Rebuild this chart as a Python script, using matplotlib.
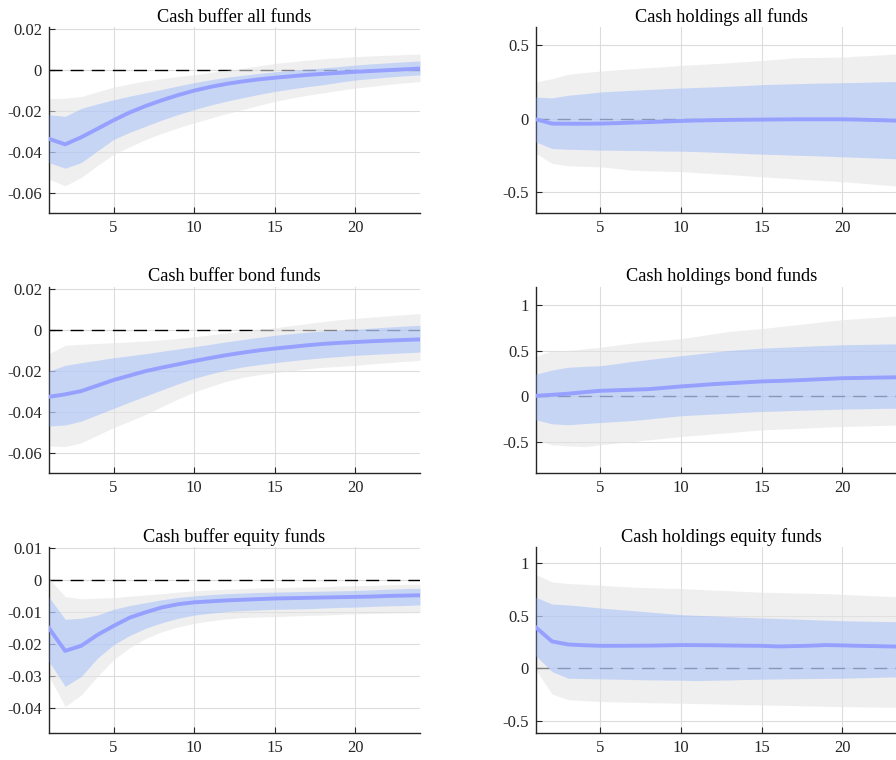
import numpy as np
import matplotlib.pyplot as plt

plt.rcParams['font.family'] = ['Liberation Serif', 'DejaVu Serif']
plt.rcParams['axes.unicode_minus'] = False

horizon = np.arange(1, 25)

titles = ['Cash buffer all funds', 'Cash holdings all funds',
          'Cash buffer bond funds', 'Cash holdings bond funds',
          'Cash buffer equity funds', 'Cash holdings equity funds']

# cash buffer, all funds
buf_all_mean = [-0.0337, -0.0364, -0.0329, -0.0288, -0.0246, -0.0208, -0.0176, -0.0148, -0.0123, -0.0101, -0.0083, -0.0068,
                -0.0056, -0.0046, -0.0038, -0.0031, -0.0024, -0.0019, -0.0014, -0.0009, -0.0005, -0.0001, 0.0003, 0.0007]
buf_all_in_hi = [-0.0219, -0.0227, -0.0188, -0.0166, -0.0146, -0.0128, -0.0112, -0.0095, -0.0078, -0.0062, -0.0048, -0.0036,
                 -0.0026, -0.0017, -0.0009, -0.0002, 0.0004, 0.0010, 0.0017, 0.0024, 0.0030, 0.0035, 0.0040, 0.0044]
buf_all_in_lo = [-0.0453, -0.0481, -0.0453, -0.0396, -0.0340, -0.0305, -0.0275, -0.0245, -0.0218, -0.0194, -0.0172, -0.0153,
                 -0.0136, -0.0120, -0.0105, -0.0093, -0.0082, -0.0072, -0.0060, -0.0049, -0.0042, -0.0035, -0.0029, -0.0024]
buf_all_out_hi = [-0.0141, -0.0138, -0.0130, -0.0107, -0.0084, -0.0068, -0.0053, -0.0042, -0.0032, -0.0024, -0.0012, -0.0002,
                  0.0008, 0.0020, 0.0032, 0.0040, 0.0048, 0.0055, 0.0060, 0.0065, 0.0069, 0.0072, 0.0075, 0.0078]
buf_all_out_lo = [-0.0534, -0.0567, -0.0526, -0.0468, -0.0413, -0.0376, -0.0340, -0.0310, -0.0283, -0.0259, -0.0236, -0.0214,
                  -0.0194, -0.0173, -0.0154, -0.0138, -0.0124, -0.0112, -0.0100, -0.0089, -0.0080, -0.0071, -0.0063, -0.0057]

# cash buffer, bond funds
buf_bond_mean = [-0.0327, -0.0315, -0.0299, -0.0272, -0.0245, -0.0223, -0.0201, -0.0184, -0.0168, -0.0152, -0.0137, -0.0123,
                 -0.0111, -0.0100, -0.0091, -0.0083, -0.0075, -0.0068, -0.0063, -0.0059, -0.0055, -0.0052, -0.0049, -0.0046]
buf_bond_in_hi = [-0.0201, -0.0173, -0.0160, -0.0148, -0.0136, -0.0126, -0.0116, -0.0104, -0.0093, -0.0082, -0.0070, -0.0058,
                  -0.0047, -0.0036, -0.0026, -0.0018, -0.0011, -0.0005, -0.0001, 0.0003, 0.0009, 0.0014, 0.0019, 0.0023]
buf_bond_in_lo = [-0.0470, -0.0465, -0.0446, -0.0415, -0.0384, -0.0353, -0.0323, -0.0293, -0.0264, -0.0237, -0.0215, -0.0196,
                  -0.0181, -0.0170, -0.0160, -0.0151, -0.0143, -0.0136, -0.0130, -0.0124, -0.0120, -0.0116, -0.0112, -0.0108]
buf_bond_out_hi = [-0.0116, -0.0075, -0.0070, -0.0066, -0.0062, -0.0058, -0.0054, -0.0048, -0.0041, -0.0033, -0.0024, -0.0015,
                   -0.0007, 0.0002, 0.0011, 0.0021, 0.0031, 0.0041, 0.0050, 0.0057, 0.0063, 0.0069, 0.0075, 0.0080]
buf_bond_out_lo = [-0.0568, -0.0571, -0.0552, -0.0515, -0.0478, -0.0446, -0.0413, -0.0375, -0.0338, -0.0304, -0.0276, -0.0252,
                   -0.0232, -0.0219, -0.0209, -0.0199, -0.0190, -0.0183, -0.0178, -0.0173, -0.0166, -0.0160, -0.0154, -0.0149]

# cash buffer, equity funds
buf_eq_mean = [-0.0151, -0.0222, -0.0206, -0.0172, -0.0144, -0.0118, -0.0101, -0.0086, -0.0076, -0.0070, -0.0067, -0.0064,
               -0.0062, -0.0060, -0.0058, -0.0057, -0.0056, -0.0055, -0.0054, -0.0053, -0.0052, -0.0050, -0.0049, -0.0048]
buf_eq_in_hi = [-0.0054, -0.0123, -0.0120, -0.0110, -0.0092, -0.0080, -0.0071, -0.0062, -0.0055, -0.0050, -0.0046, -0.0043,
                -0.0041, -0.0039, -0.0038, -0.0037, -0.0036, -0.0035, -0.0034, -0.0033, -0.0031, -0.0029, -0.0027, -0.0026]
buf_eq_in_lo = [-0.0255, -0.0333, -0.0302, -0.0245, -0.0203, -0.0174, -0.0151, -0.0134, -0.0120, -0.0110, -0.0104, -0.0099,
                -0.0096, -0.0094, -0.0092, -0.0091, -0.0090, -0.0088, -0.0086, -0.0085, -0.0083, -0.0081, -0.0080, -0.0078]
buf_eq_out_hi = [0.0005, -0.0052, -0.0059, -0.0057, -0.0055, -0.0051, -0.0047, -0.0043, -0.0038, -0.0034, -0.0031, -0.0029,
                 -0.0027, -0.0025, -0.0024, -0.0023, -0.0022, -0.0021, -0.0019, -0.0018, -0.0017, -0.0015, -0.0014, -0.0013]
buf_eq_out_lo = [-0.0302, -0.0396, -0.0360, -0.0302, -0.0250, -0.0212, -0.0183, -0.0162, -0.0147, -0.0136, -0.0128, -0.0122,
                 -0.0118, -0.0116, -0.0115, -0.0113, -0.0111, -0.0110, -0.0108, -0.0106, -0.0105, -0.0104, -0.0103, -0.0102]

# cash holdings, all funds
hold_all_mean = [-0.005, -0.034, -0.035, -0.035, -0.034, -0.031, -0.027, -0.024, -0.020, -0.016, -0.013, -0.011,
                 -0.009, -0.008, -0.007, -0.006, -0.005, -0.005, -0.005, -0.005, -0.007, -0.010, -0.013, -0.016]
hold_all_in_hi = [0.146, 0.140, 0.158, 0.168, 0.180, 0.186, 0.192, 0.197, 0.202, 0.207, 0.211, 0.215,
                  0.219, 0.224, 0.230, 0.233, 0.236, 0.239, 0.241, 0.243, 0.245, 0.248, 0.250, 0.252]
hold_all_in_lo = [-0.158, -0.203, -0.208, -0.211, -0.214, -0.215, -0.216, -0.218, -0.220, -0.221, -0.224, -0.228,
                  -0.232, -0.237, -0.241, -0.244, -0.248, -0.251, -0.255, -0.259, -0.263, -0.267, -0.271, -0.275]
hold_all_out_hi = [0.248, 0.270, 0.300, 0.312, 0.322, 0.330, 0.338, 0.345, 0.352, 0.360, 0.366, 0.372,
                   0.378, 0.386, 0.394, 0.402, 0.412, 0.414, 0.415, 0.417, 0.423, 0.429, 0.435, 0.440]
hold_all_out_lo = [-0.236, -0.304, -0.320, -0.324, -0.327, -0.338, -0.350, -0.354, -0.357, -0.360, -0.366, -0.373,
                   -0.380, -0.387, -0.394, -0.401, -0.408, -0.415, -0.421, -0.428, -0.436, -0.445, -0.454, -0.462]

# cash holdings, bond funds
hold_bond_mean = [0.007, 0.018, 0.030, 0.047, 0.062, 0.068, 0.074, 0.080, 0.095, 0.110, 0.122, 0.135,
                  0.145, 0.155, 0.165, 0.170, 0.176, 0.184, 0.192, 0.200, 0.203, 0.206, 0.209, 0.212]
hold_bond_in_hi = [0.245, 0.290, 0.320, 0.330, 0.337, 0.360, 0.385, 0.405, 0.426, 0.447, 0.466, 0.486,
                   0.505, 0.518, 0.530, 0.537, 0.545, 0.553, 0.560, 0.567, 0.570, 0.573, 0.576, 0.578]
hold_bond_in_lo = [-0.256, -0.300, -0.310, -0.298, -0.286, -0.275, -0.264, -0.247, -0.229, -0.212, -0.202, -0.193,
                   -0.184, -0.174, -0.165, -0.160, -0.154, -0.149, -0.144, -0.139, -0.136, -0.133, -0.130, -0.128]
hold_bond_out_hi = [0.440, 0.500, 0.505, 0.522, 0.540, 0.563, 0.586, 0.602, 0.618, 0.634, 0.660, 0.687,
                    0.714, 0.729, 0.744, 0.764, 0.784, 0.803, 0.823, 0.842, 0.854, 0.866, 0.878, 0.890]
hold_bond_out_lo = [-0.476, -0.531, -0.541, -0.550, -0.531, -0.512, -0.494, -0.476, -0.458, -0.440, -0.425, -0.410,
                    -0.396, -0.381, -0.366, -0.359, -0.352, -0.344, -0.337, -0.330, -0.325, -0.320, -0.316, -0.311]

# cash holdings, equity funds
hold_eq_mean = [0.389, 0.255, 0.226, 0.218, 0.213, 0.213, 0.214, 0.215, 0.217, 0.220, 0.219, 0.218,
                0.216, 0.214, 0.213, 0.207, 0.210, 0.214, 0.220, 0.217, 0.213, 0.210, 0.207, 0.204]
hold_eq_in_hi = [0.675, 0.611, 0.602, 0.588, 0.573, 0.560, 0.548, 0.535, 0.522, 0.510, 0.503, 0.497,
                 0.490, 0.484, 0.478, 0.473, 0.468, 0.462, 0.457, 0.452, 0.449, 0.446, 0.443, 0.440]
hold_eq_in_lo = [0.118, -0.032, -0.096, -0.099, -0.102, -0.105, -0.108, -0.111, -0.113, -0.115, -0.118, -0.115,
                 -0.112, -0.108, -0.105, -0.103, -0.101, -0.099, -0.097, -0.096, -0.092, -0.088, -0.084, -0.080]
hold_eq_out_hi = [0.892, 0.822, 0.806, 0.798, 0.790, 0.780, 0.771, 0.767, 0.762, 0.758, 0.751, 0.744,
                  0.737, 0.730, 0.723, 0.720, 0.716, 0.713, 0.710, 0.703, 0.696, 0.689, 0.683, 0.678]
hold_eq_out_lo = [-0.016, -0.245, -0.300, -0.309, -0.318, -0.321, -0.324, -0.328, -0.331, -0.334, -0.337, -0.340,
                  -0.344, -0.347, -0.350, -0.353, -0.356, -0.360, -0.363, -0.366, -0.368, -0.370, -0.372, -0.373]

panels = [
    (buf_all_mean, buf_all_in_lo, buf_all_in_hi, buf_all_out_lo, buf_all_out_hi),
    (hold_all_mean, hold_all_in_lo, hold_all_in_hi, hold_all_out_lo, hold_all_out_hi),
    (buf_bond_mean, buf_bond_in_lo, buf_bond_in_hi, buf_bond_out_lo, buf_bond_out_hi),
    (hold_bond_mean, hold_bond_in_lo, hold_bond_in_hi, hold_bond_out_lo, hold_bond_out_hi),
    (buf_eq_mean, buf_eq_in_lo, buf_eq_in_hi, buf_eq_out_lo, buf_eq_out_hi),
    (hold_eq_mean, hold_eq_in_lo, hold_eq_in_hi, hold_eq_out_lo, hold_eq_out_hi),
]

ylims = [(-0.07, 0.021), (-0.64, 0.62),
         (-0.07, 0.021), (-0.84, 1.2),
         (-0.048, 0.0102), (-0.62, 1.15)]
yticks = [[-0.06, -0.04, -0.02, 0, 0.02], [-0.5, 0, 0.5],
          [-0.06, -0.04, -0.02, 0, 0.02], [-0.5, 0, 0.5, 1],
          [-0.04, -0.03, -0.02, -0.01, 0, 0.01], [-0.5, 0, 0.5, 1]]

fig = plt.figure(figsize=(8.96, 7.6), dpi=100)

# right column runs past the figure edge on purpose
col_left = [0.0547, 0.598]
row_bottom = [0.7197, 0.3776, 0.0351]
width, height = 0.414, 0.2447

for i, (mean, in_lo, in_hi, out_lo, out_hi) in enumerate(panels):
    r, c = divmod(i, 2)
    ax = fig.add_axes([col_left[c], row_bottom[r], width, height])
    ax.set_axisbelow(True)
    ax.grid(True, color='#dcdcdc', linewidth=0.8)

    # zero line sits under the translucent bands
    ax.plot(horizon, np.zeros(len(horizon)), color='black', linewidth=1.0,
            linestyle=(0, (9.4, 5.8)), zorder=1)
    ax.fill_between(horizon, out_lo, out_hi, color='#e4e4e4', alpha=0.57,
                    linewidth=0, zorder=2)
    ax.fill_between(horizon, in_lo, in_hi, color='#93b3ff', alpha=0.43,
                    linewidth=0, zorder=3)
    ax.plot(horizon, mean, color='#96a0ff', linewidth=2.8, zorder=4)

    ax.set_xlim(1, 24)
    ax.set_ylim(*ylims[i])
    ax.set_xticks([5, 10, 15, 20])
    ax.set_yticks(yticks[i])
    ax.set_yticklabels(['%g' % v for v in yticks[i]])
    ax.set_title(titles[i], fontsize=13.2, pad=4)

    for side in ['top', 'right']:
        ax.spines[side].set_visible(False)
    for side in ['left', 'bottom']:
        ax.spines[side].set_color('#262626')
        ax.spines[side].set_linewidth(1.0)
    ax.tick_params(direction='in', length=4, width=0.8, color='#262626',
                   labelsize=12, labelcolor='#262626', pad=5)

fig.savefig('out.png', dpi=100)
